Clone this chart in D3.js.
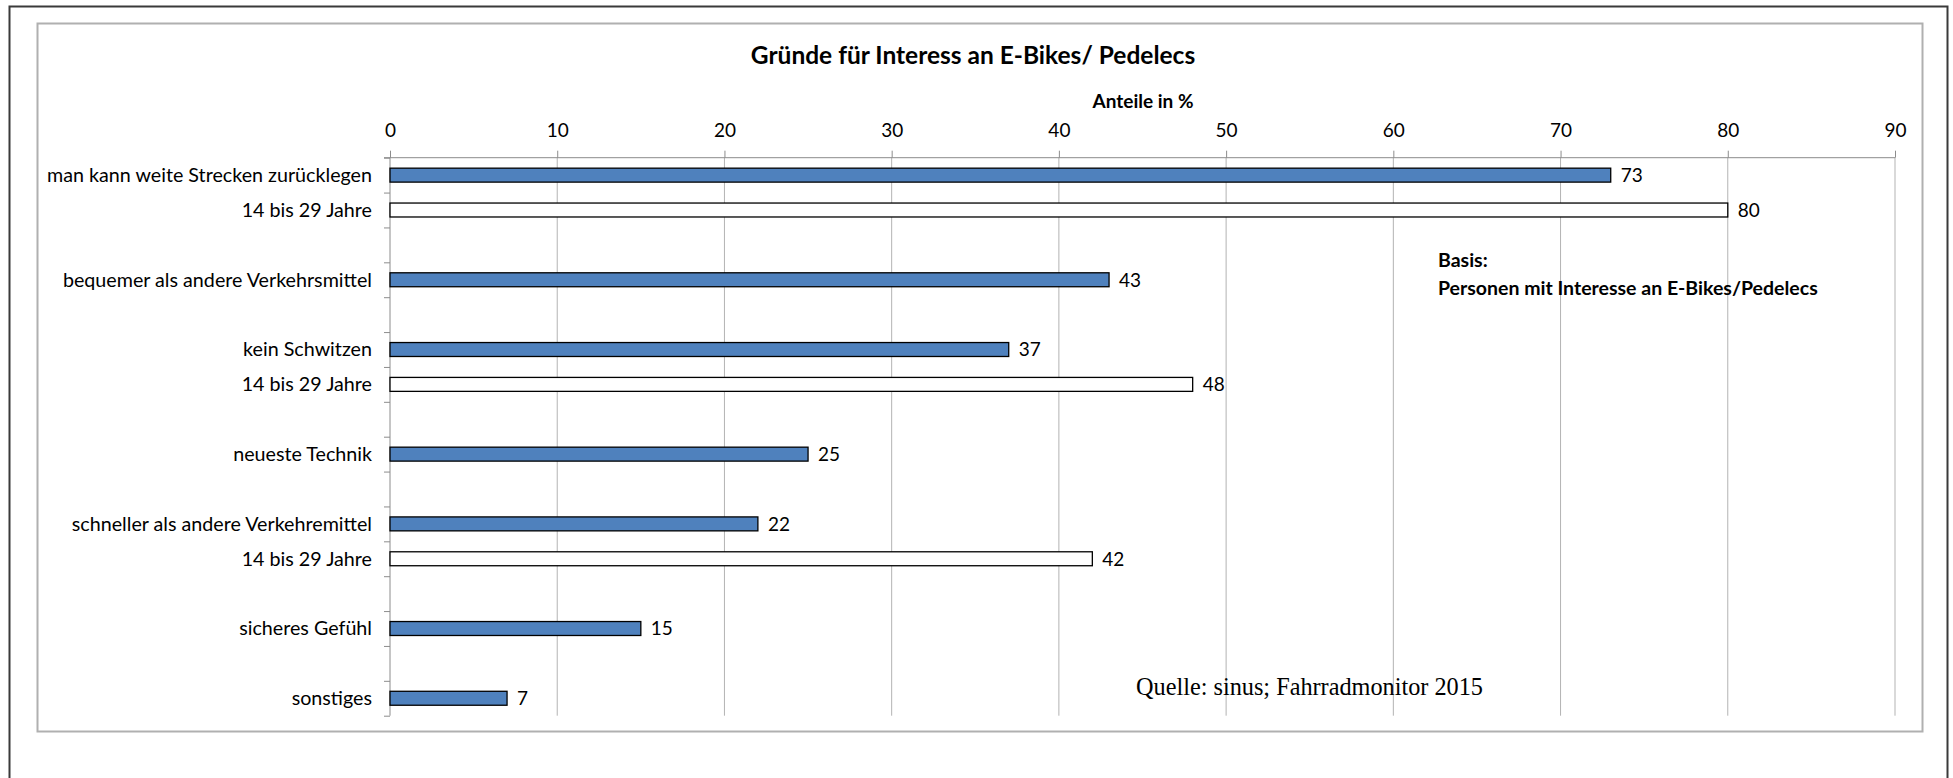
<!DOCTYPE html>
<html>
<head>
<meta charset="utf-8">
<script src="https://cdn.jsdelivr.net/npm/d3@7"></script>
<style>
  body { margin: 0; background: #fff; }
  svg { display: block; }
  text { font-family: Lato, "Noto Sans", sans-serif; fill: #000; }
  .cat-label { font-size: 19.7px; }
  .value-label, .tick text { font-size: 19px; }
</style>
</head>
<body>
<script>
// categories (empty strings are the gaps between groups)
const categories = [
  "man kann weite Strecken zurücklegen", "14 bis 29 Jahre", "",
  "bequemer als andere Verkehrsmittel", "",
  "kein Schwitzen", "14 bis 29 Jahre", "",
  "neueste Technik", "",
  "schneller als andere Verkehremittel", "14 bis 29 Jahre", "",
  "sicheres Gefühl", "",
  "sonstiges"
];
// share in %, null = no bar
const values = [73, 80, null, 43, null, 37, 48, null, 25, null, 22, 42, null, 15, null, 7];
// which row is the "14 bis 29 Jahre" sub-group
const youthRow = [false, true, false, false, false, false, true, false, false, false, false, true, false, false, false, false];
const xTicks = [0, 10, 20, 30, 40, 50, 60, 70, 80, 90];

const W = 1953, H = 778;
const plot = { left: 390, right: 1895, top: 157.7, bottom: 715.7 };

const svg = d3.select("body").append("svg")
  .attr("width", W)
  .attr("height", H);

// outer frame and chart area frame
svg.append("rect")
  .attr("x", 9.5).attr("y", 6.5)
  .attr("width", 1938).attr("height", 790)
  .attr("fill", "none").attr("stroke", "#3a3a3a").attr("stroke-width", 2);

svg.append("rect")
  .attr("x", 37.5).attr("y", 23.5)
  .attr("width", 1885).attr("height", 708)
  .attr("fill", "none").attr("stroke", "#b0b0b0").attr("stroke-width", 2);

const x = d3.scaleLinear().domain([0, 90]).range([plot.left, plot.right]);
const y = d3.scaleBand()
  .domain(d3.range(categories.length))
  .range([plot.top, plot.bottom])
  .paddingInner(0.6)
  .paddingOuter(0.3);
// slot boundaries for the category tick marks
const slots = d3.scaleLinear().domain([0, categories.length]).range([plot.top, plot.bottom]);

// vertical gridlines
svg.append("g")
  .selectAll("line")
  .data(xTicks.slice(1))
  .enter()
  .append("line")
  .attr("x1", d => x(d)).attr("x2", d => x(d))
  .attr("y1", plot.top).attr("y2", plot.bottom)
  .attr("stroke", "#b3b3b3").attr("stroke-width", 1);

// top value axis
const xAxis = svg.append("g")
  .attr("transform", "translate(0," + plot.top + ")")
  .call(d3.axisTop(x).tickValues(xTicks).tickSize(7).tickPadding(14).tickSizeOuter(0));
xAxis.select(".domain").attr("stroke", "#8c8c8c").attr("d", "M" + (plot.left - 6) + ",0H" + plot.right);
xAxis.selectAll(".tick line").attr("stroke", "#8c8c8c");

// left category axis (tick marks only)
const yAxis = svg.append("g")
  .attr("transform", "translate(" + plot.left + ",0)")
  .call(d3.axisLeft(slots).tickValues(d3.range(categories.length + 1)).tickSize(6).tickFormat(""));
yAxis.select(".domain").attr("stroke", "#8c8c8c").attr("d", "M0," + plot.top + "V" + plot.bottom);
yAxis.selectAll(".tick line").attr("stroke", "#8c8c8c");

// category labels
svg.append("g")
  .selectAll("text")
  .data(categories)
  .enter()
  .append("text")
  .attr("class", "cat-label")
  .attr("x", plot.left - 18)
  .attr("y", (d, i) => y(i) + y.bandwidth() / 2)
  .attr("dy", "0.35em")
  .attr("text-anchor", "end")
  .text(d => d);

const rows = values.map((v, i) => ({ i: i, v: v, youth: youthRow[i] })).filter(d => d.v != null);

// bars
svg.append("g")
  .selectAll("rect")
  .data(rows)
  .enter()
  .append("rect")
  .attr("x", x(0))
  .attr("y", d => y(d.i))
  .attr("width", d => x(d.v) - x(0))
  .attr("height", y.bandwidth())
  .attr("fill", d => d.youth ? "#ffffff" : "#4f81bd")
  .attr("stroke", "#000")
  .attr("stroke-width", 1.3);

// value labels
svg.append("g")
  .selectAll("text")
  .data(rows)
  .enter()
  .append("text")
  .attr("class", "value-label")
  .attr("x", d => x(d.v) + 10)
  .attr("y", d => y(d.i) + y.bandwidth() / 2)
  .attr("dy", "0.36em")
  .text(d => d.v);

// titles and notes
svg.append("text")
  .attr("x", 973).attr("y", 64)
  .attr("text-anchor", "middle")
  .style("font-size", "24.5px").style("font-weight", "bold")
  .text("Gründe für Interess an E-Bikes/ Pedelecs");

svg.append("text")
  .attr("x", 1143).attr("y", 108)
  .attr("text-anchor", "middle")
  .style("font-size", "19px").style("font-weight", "bold")
  .text("Anteile in %");

svg.append("text")
  .attr("x", 1438).attr("y", 267)
  .style("font-size", "19.5px").style("font-weight", "bold")
  .text("Basis:");

svg.append("text")
  .attr("x", 1438).attr("y", 295)
  .style("font-size", "19.5px").style("font-weight", "bold")
  .text("Personen mit Interesse an E-Bikes/Pedelecs");

svg.append("text")
  .attr("x", 1136).attr("y", 695)
  .attr("textLength", 347)
  .attr("lengthAdjust", "spacingAndGlyphs")
  .style("font-family", "'Liberation Serif', 'DejaVu Serif', serif")
  .style("font-size", "25px")
  .text("Quelle: sinus; Fahrradmonitor 2015");
</script>
</body>
</html>
